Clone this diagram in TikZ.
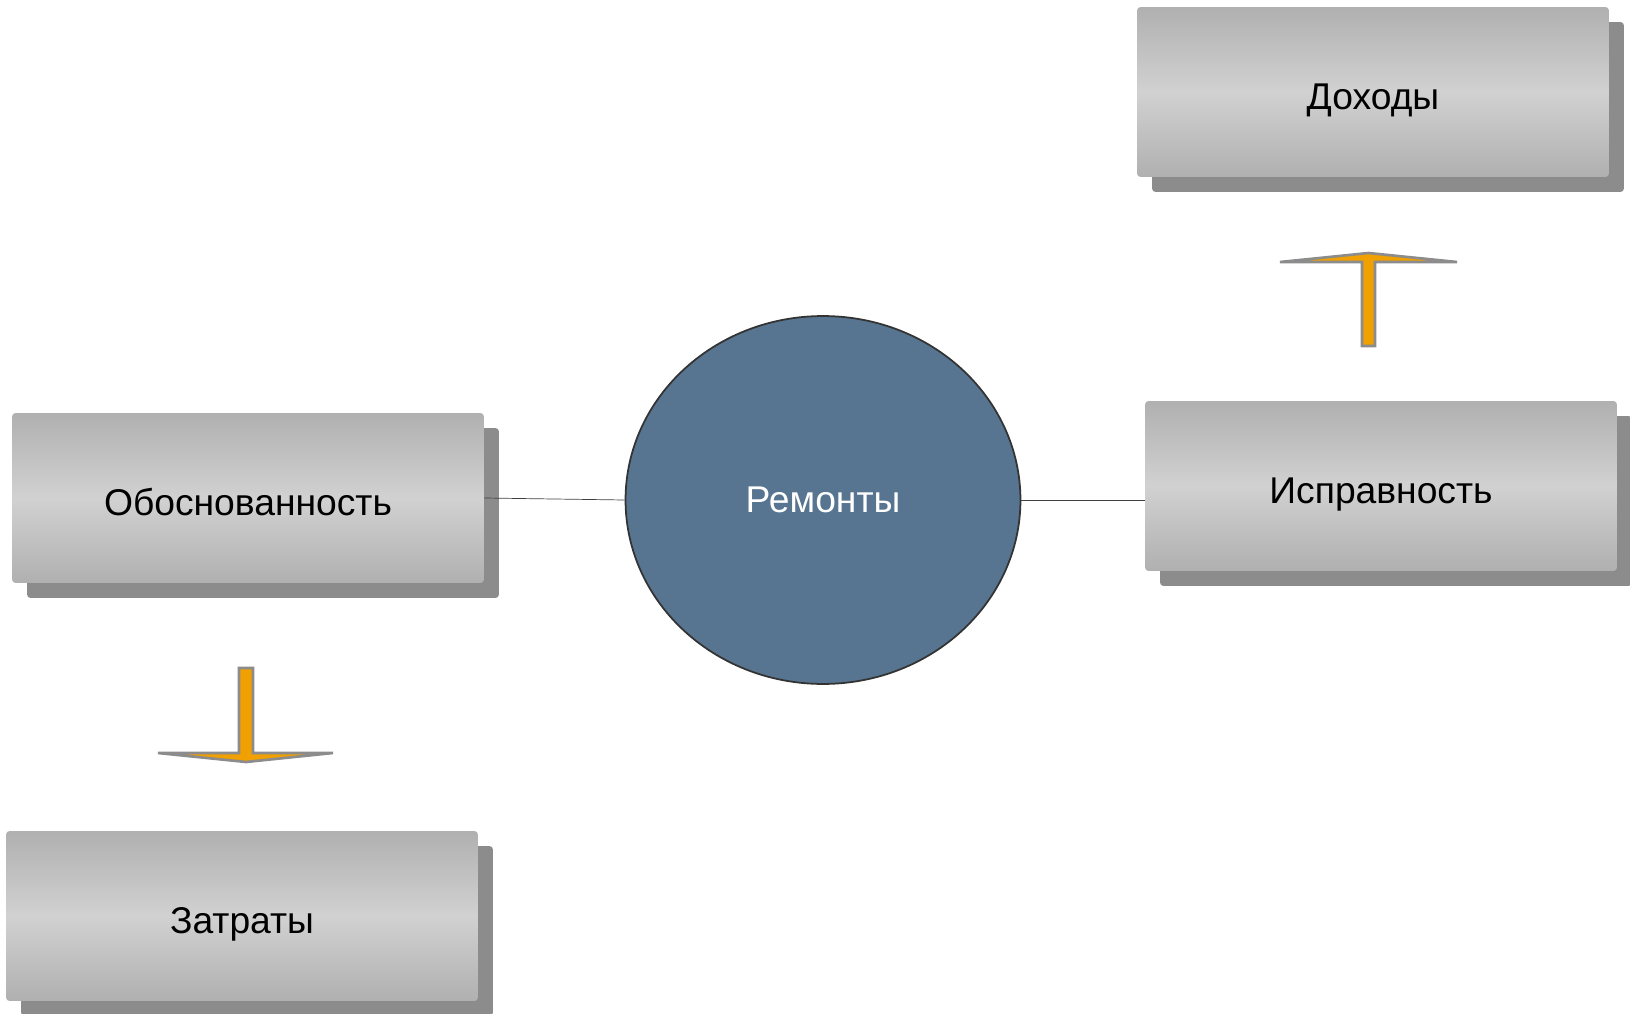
\documentclass[tikz,border=0pt]{standalone}
\usepackage{fontspec}
\setmainfont{Liberation Sans}
\usetikzlibrary{shapes.geometric,shadows}
\definecolor{hubfill}{RGB}{87,117,144}
\definecolor{arrfill}{RGB}{240,160,0}
\begin{document}
\begin{tikzpicture}[x=0.02cm,y=-0.02cm,
  box/.style={rectangle, rounded corners=2pt, minimum width=9.44cm,
    minimum height=3.4cm, top color=black!31, bottom color=black!31,
    middle color=black!18, font=\fontsize{21.2}{25}\selectfont,
    text height=19.5pt, text depth=0pt,
    drop shadow={shadow xshift=0.3cm, shadow yshift=-0.3cm,
      fill=black!50, opacity=0.9}},
  hub/.style={ellipse, draw=black!80, line width=1pt, fill=hubfill,
    minimum width=7.9cm, minimum height=7.36cm, text=white,
    font=\fontsize{21.2}{25}\selectfont},
  link/.style={draw=black!75, thin},
  blockarrow/.style={draw=black!45, line width=1.5pt, fill=arrfill}]
  \useasboundingbox (0,0) rectangle (1630,1014);
  % boxes and hub
  \node [box] (dohody) at (1373,92) {Доходы};
  \node [box] (obosn) at (248,498) {Обоснованность};
  \node [box] (ispr) at (1381,486) {Исправность};
  \node [box] (zatraty) at (242,916) {Затраты};
  \node [hub] (remonty) at (823,500) {Ремонты};
  % connectors
  \draw [link] (obosn.east) -- (remonty.west);
  \draw [link] (remonty.east) -- (remonty.east -| ispr.west);
  % block arrows
  \draw [blockarrow] (1362,346) -- (1362,262) -- (1280,262) -- (1368.5,253)
        -- (1457,262) -- (1375,262) -- (1375,346) -- cycle;
  \draw [blockarrow] (239,668) -- (239,753) -- (158,753) -- (246,762)
        -- (333,753) -- (253,753) -- (253,668) -- cycle;
\end{tikzpicture}
\end{document}
